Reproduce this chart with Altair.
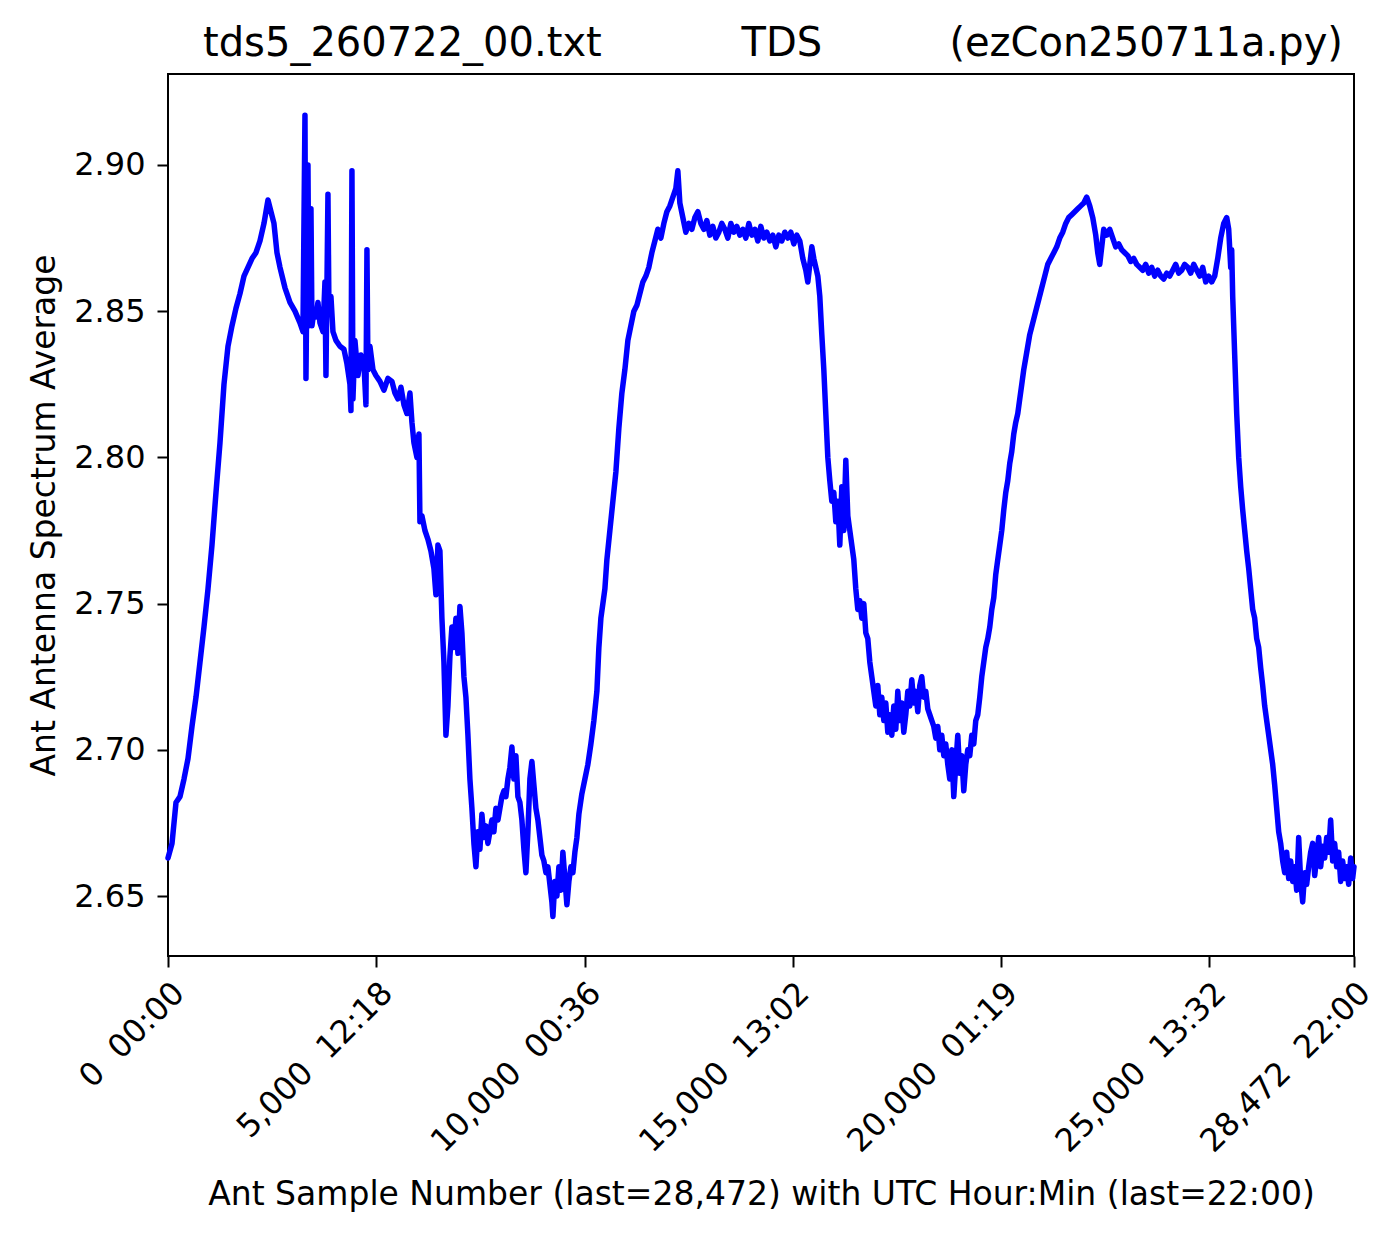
import altair as alt
import pandas as pd

sample_numbers = [
    0, 96, 192, 288, 384, 480, 576, 672, 768, 864,
    960, 1056, 1152, 1248, 1344, 1440, 1536, 1632, 1728, 1824,
    1920, 2016, 2112, 2208, 2304, 2400, 2472, 2544, 2616, 2688,
    2808, 2928, 3048, 3168, 3240, 3288, 3312, 3360, 3384, 3432,
    3456, 3504, 3552, 3600, 3648, 3720, 3768, 3792, 3840, 3864,
    3912, 3960, 4032, 4128, 4224, 4296, 4368, 4392, 4416, 4440,
    4488, 4560, 4632, 4704, 4752, 4776, 4800, 4848, 4920, 4992,
    5088, 5184, 5280, 5376, 5448, 5520, 5592, 5664, 5736, 5808,
    5856, 5904, 5976, 6024, 6048, 6096, 6168, 6240, 6312, 6384,
    6432, 6480, 6528, 6576, 6624, 6672, 6720, 6768, 6816, 6864,
    6912, 6960, 7008, 7056, 7104, 7152, 7200, 7248, 7296, 7344,
    7392, 7440, 7488, 7536, 7584, 7632, 7680, 7728, 7776, 7824,
    7872, 7920, 7968, 8016, 8064, 8112, 8160, 8208, 8256, 8304,
    8352, 8400, 8448, 8496, 8544, 8592, 8640, 8688, 8736, 8784,
    8832, 8880, 8928, 8976, 9024, 9072, 9120, 9168, 9216, 9240,
    9288, 9336, 9384, 9432, 9480, 9528, 9576, 9624, 9672, 9720,
    9768, 9816, 9864, 9936, 10008, 10080, 10152, 10224, 10296, 10344,
    10392, 10440, 10488, 10536, 10608, 10680, 10752, 10824, 10896, 10968,
    11040, 11112, 11184, 11256, 11328, 11400, 11472, 11544, 11616, 11688,
    11760, 11832, 11904, 11976, 12048, 12120, 12192, 12240, 12288, 12360,
    12432, 12504, 12576, 12648, 12720, 12792, 12864, 12936, 13008, 13080,
    13152, 13224, 13296, 13368, 13440, 13512, 13584, 13656, 13728, 13800,
    13872, 13944, 14016, 14088, 14160, 14232, 14304, 14376, 14448, 14520,
    14592, 14664, 14736, 14808, 14880, 14952, 15024, 15096, 15168, 15240,
    15312, 15360, 15408, 15456, 15504, 15552, 15600, 15648, 15696, 15744,
    15792, 15840, 15888, 15936, 15984, 16032, 16080, 16128, 16176, 16224,
    16272, 16320, 16368, 16416, 16464, 16512, 16560, 16608, 16656, 16704,
    16752, 16800, 16848, 16896, 16944, 16992, 17040, 17088, 17136, 17184,
    17232, 17280, 17328, 17376, 17424, 17472, 17520, 17568, 17616, 17664,
    17712, 17760, 17808, 17856, 17904, 17952, 18000, 18048, 18096, 18144,
    18192, 18240, 18288, 18336, 18384, 18432, 18480, 18528, 18576, 18624,
    18672, 18720, 18768, 18816, 18864, 18912, 18960, 19008, 19056, 19104,
    19152, 19200, 19248, 19296, 19344, 19392, 19440, 19488, 19536, 19584,
    19632, 19680, 19728, 19776, 19824, 19872, 19920, 19968, 20016, 20064,
    20112, 20160, 20208, 20256, 20304, 20352, 20400, 20448, 20496, 20544,
    20592, 20640, 20688, 20760, 20832, 20904, 20976, 21048, 21120, 21192,
    21264, 21336, 21408, 21480, 21552, 21624, 21696, 21768, 21840, 21912,
    21984, 22056, 22128, 22200, 22272, 22320, 22368, 22416, 22464, 22536,
    22608, 22680, 22752, 22824, 22896, 22968, 23040, 23112, 23184, 23256,
    23328, 23400, 23472, 23544, 23616, 23688, 23760, 23832, 23904, 23976,
    24048, 24120, 24192, 24264, 24336, 24408, 24480, 24552, 24624, 24696,
    24768, 24840, 24912, 24984, 25056, 25128, 25200, 25272, 25344, 25416,
    25464, 25512, 25536, 25560, 25608, 25656, 25704, 25752, 25800, 25848,
    25896, 25944, 25992, 26040, 26088, 26136, 26184, 26232, 26280, 26328,
    26376, 26424, 26472, 26520, 26568, 26616, 26664, 26712, 26760, 26808,
    26856, 26904, 26952, 27000, 27048, 27096, 27144, 27192, 27240, 27288,
    27336, 27384, 27432, 27480, 27528, 27576, 27624, 27672, 27720, 27768,
    27816, 27864, 27912, 27960, 28008, 28056, 28104, 28152, 28200, 28248,
    28296, 28344, 28392, 28440, 28472,
]

spectrum_average = [
    2.663, 2.668, 2.682, 2.684, 2.690, 2.697, 2.708, 2.718, 2.730, 2.742,
    2.755, 2.770, 2.788, 2.805, 2.825, 2.838, 2.845, 2.851, 2.856, 2.862,
    2.865, 2.868, 2.870, 2.874, 2.880, 2.888, 2.884, 2.880, 2.870, 2.865,
    2.858, 2.853, 2.850, 2.846, 2.843, 2.917, 2.827, 2.900, 2.845, 2.885,
    2.845, 2.850, 2.848, 2.853, 2.846, 2.843, 2.860, 2.828, 2.890, 2.850,
    2.855, 2.843, 2.840, 2.838, 2.837, 2.832, 2.825, 2.816, 2.898, 2.820,
    2.840, 2.828, 2.835, 2.832, 2.818, 2.871, 2.830, 2.838, 2.830, 2.828,
    2.826, 2.823, 2.827, 2.826, 2.822, 2.820, 2.824, 2.818, 2.815, 2.822,
    2.812, 2.805, 2.800, 2.808, 2.778, 2.780, 2.775, 2.772, 2.768, 2.762,
    2.753, 2.770, 2.768, 2.745, 2.730, 2.705, 2.715, 2.732, 2.742, 2.735,
    2.745, 2.733, 2.749, 2.740, 2.725, 2.718, 2.705, 2.690, 2.680, 2.668,
    2.660, 2.672, 2.666, 2.678, 2.670, 2.674, 2.668, 2.672, 2.676, 2.672,
    2.680, 2.676, 2.680, 2.684, 2.686, 2.684, 2.690, 2.694, 2.701, 2.690,
    2.698, 2.684, 2.682, 2.676, 2.666, 2.658, 2.672, 2.690, 2.696, 2.688,
    2.680, 2.676, 2.670, 2.664, 2.662, 2.658, 2.660, 2.654, 2.648, 2.643,
    2.655, 2.650, 2.660, 2.652, 2.665, 2.656, 2.647, 2.655, 2.660, 2.658,
    2.665, 2.670, 2.678, 2.685, 2.690, 2.695, 2.702, 2.710, 2.720, 2.735,
    2.745, 2.750, 2.755, 2.765, 2.775, 2.785, 2.795, 2.810, 2.822, 2.830,
    2.840, 2.845, 2.850, 2.852, 2.856, 2.860, 2.862, 2.865, 2.870, 2.874,
    2.878, 2.875, 2.880, 2.884, 2.886, 2.889, 2.892, 2.898, 2.887, 2.882,
    2.877, 2.880, 2.878, 2.882, 2.884, 2.880, 2.878, 2.881, 2.876, 2.879,
    2.875, 2.877, 2.880, 2.878, 2.875, 2.880, 2.877, 2.879, 2.876, 2.878,
    2.875, 2.880, 2.876, 2.878, 2.874, 2.879, 2.875, 2.877, 2.874, 2.876,
    2.872, 2.876, 2.874, 2.877, 2.875, 2.877, 2.873, 2.876, 2.874, 2.868,
    2.864, 2.860, 2.866, 2.872, 2.868, 2.865, 2.862, 2.855, 2.842, 2.830,
    2.815, 2.800, 2.792, 2.785, 2.788, 2.778, 2.785, 2.770, 2.790, 2.775,
    2.799, 2.780, 2.775, 2.770, 2.765, 2.755, 2.748, 2.751, 2.745, 2.750,
    2.740, 2.738, 2.730, 2.725, 2.720, 2.715, 2.722, 2.712, 2.718, 2.710,
    2.716, 2.706, 2.712, 2.705, 2.715, 2.707, 2.720, 2.710, 2.716, 2.706,
    2.712, 2.720, 2.715, 2.724, 2.716, 2.720, 2.713, 2.722, 2.725, 2.718,
    2.720, 2.714, 2.712, 2.710, 2.708, 2.704, 2.708, 2.700, 2.705, 2.698,
    2.702, 2.695, 2.690, 2.700, 2.684, 2.695, 2.705, 2.692, 2.698, 2.686,
    2.695, 2.700, 2.698, 2.705, 2.702, 2.710, 2.712, 2.718, 2.725, 2.730,
    2.735, 2.738, 2.742, 2.748, 2.752, 2.760, 2.765, 2.770, 2.775, 2.782,
    2.788, 2.792, 2.798, 2.802, 2.808, 2.812, 2.815, 2.820, 2.825, 2.830,
    2.834, 2.838, 2.842, 2.846, 2.850, 2.854, 2.858, 2.862, 2.866, 2.868,
    2.870, 2.872, 2.875, 2.877, 2.880, 2.882, 2.883, 2.884, 2.885, 2.886,
    2.887, 2.889, 2.886, 2.882, 2.876, 2.870, 2.866, 2.872, 2.878, 2.876,
    2.878, 2.875, 2.872, 2.873, 2.871, 2.870, 2.869, 2.867, 2.868, 2.866,
    2.865, 2.864, 2.866, 2.863, 2.865, 2.862, 2.864, 2.862, 2.861, 2.863,
    2.862, 2.864, 2.866, 2.863, 2.864, 2.866, 2.865, 2.863, 2.866, 2.864,
    2.862, 2.865, 2.860, 2.862, 2.860, 2.862, 2.868, 2.875, 2.880, 2.882,
    2.878, 2.865, 2.871, 2.855, 2.835, 2.815, 2.800, 2.790, 2.782, 2.775,
    2.768, 2.762, 2.755, 2.748, 2.745, 2.738, 2.735, 2.728, 2.722, 2.715,
    2.710, 2.705, 2.700, 2.695, 2.688, 2.680, 2.672, 2.668, 2.662, 2.658,
    2.665, 2.656, 2.662, 2.655, 2.660, 2.652, 2.670, 2.655, 2.648, 2.658,
    2.654, 2.660, 2.665, 2.668, 2.657, 2.663, 2.670, 2.660, 2.667, 2.663,
    2.670, 2.665, 2.676, 2.662, 2.668, 2.660, 2.665, 2.655, 2.662, 2.656,
    2.660, 2.654, 2.663, 2.656, 2.660,
]

x_tick_values = [0, 5000, 10000, 15000, 20000, 25000, 28472]
x_tick_labels = ["0  00:00", "5,000  12:18", "10,000  00:36", "15,000  13:02",
                 "20,000  01:19", "25,000  13:32", "28,472  22:00"]
y_tick_values = [2.65, 2.70, 2.75, 2.80, 2.85, 2.90]

title_parts = ["tds5_260722_00.txt", "TDS", "(ezCon250711a.py)"]
x_title = "Ant Sample Number (last=28,472) with UTC Hour:Min (last=22:00)"
y_title = "Ant Antenna Spectrum Average"

assert len(sample_numbers) == len(spectrum_average)

NB = "\u00a0"
df = pd.DataFrame({"sample": sample_numbers, "avg": spectrum_average})

label_expr = "''"
for v, lab in reversed(list(zip(x_tick_values, x_tick_labels))):
    lab_nb = lab.replace(" ", NB)
    label_expr = f"datum.value == {v} ? '{lab_nb}' : ({label_expr})"

title_text = title_parts[0] + NB * 11 + title_parts[1] + NB * 10 + title_parts[2]

FONT = "DejaVu Sans"

chart = alt.Chart(df).mark_line(
    color="#0000ff", strokeWidth=5.5, strokeJoin="round", strokeCap="round"
).encode(
    x=alt.X("sample:Q",
            scale=alt.Scale(domain=[0, 28472], nice=False, zero=False),
            axis=alt.Axis(values=x_tick_values, labelExpr=label_expr,
                          title=x_title, labelAngle=315, labelAlign="right",
                          labelBaseline="top", labelPadding=10, labelLimit=1000,
                          labelOverlap=False, labelFlush=False, labelBound=False,
                          titlePadding=22)),
    y=alt.Y("avg:Q",
            scale=alt.Scale(domain=[2.6295, 2.9311], nice=False, zero=False),
            axis=alt.Axis(values=y_tick_values, format=".2f", title=y_title,
                          labelPadding=12, titlePadding=12)),
).properties(
    width=1186,
    height=882,
    autosize=alt.AutoSizeParams(type="none"),
    padding={"left": 160, "top": 66, "right": 38, "bottom": 275},
    title=alt.TitleParams(title_text, fontSize=40, font=FONT, fontWeight="normal",
                          anchor="middle", frame="group", dx=12, dy=40,
                          baseline="alphabetic", offset=18, color="black"),
).configure_view(
    stroke="black", strokeWidth=2
).configure_axis(
    grid=False, domain=False, ticks=True, tickSize=11, tickWidth=2,
    tickColor="black", labelColor="black", titleColor="black",
    labelFont=FONT, titleFont=FONT, labelFontSize=32, titleFontSize=33,
    titleFontWeight="normal",
)

chart.save("out.html", embed_options={"renderer": "svg", "actions": False})
